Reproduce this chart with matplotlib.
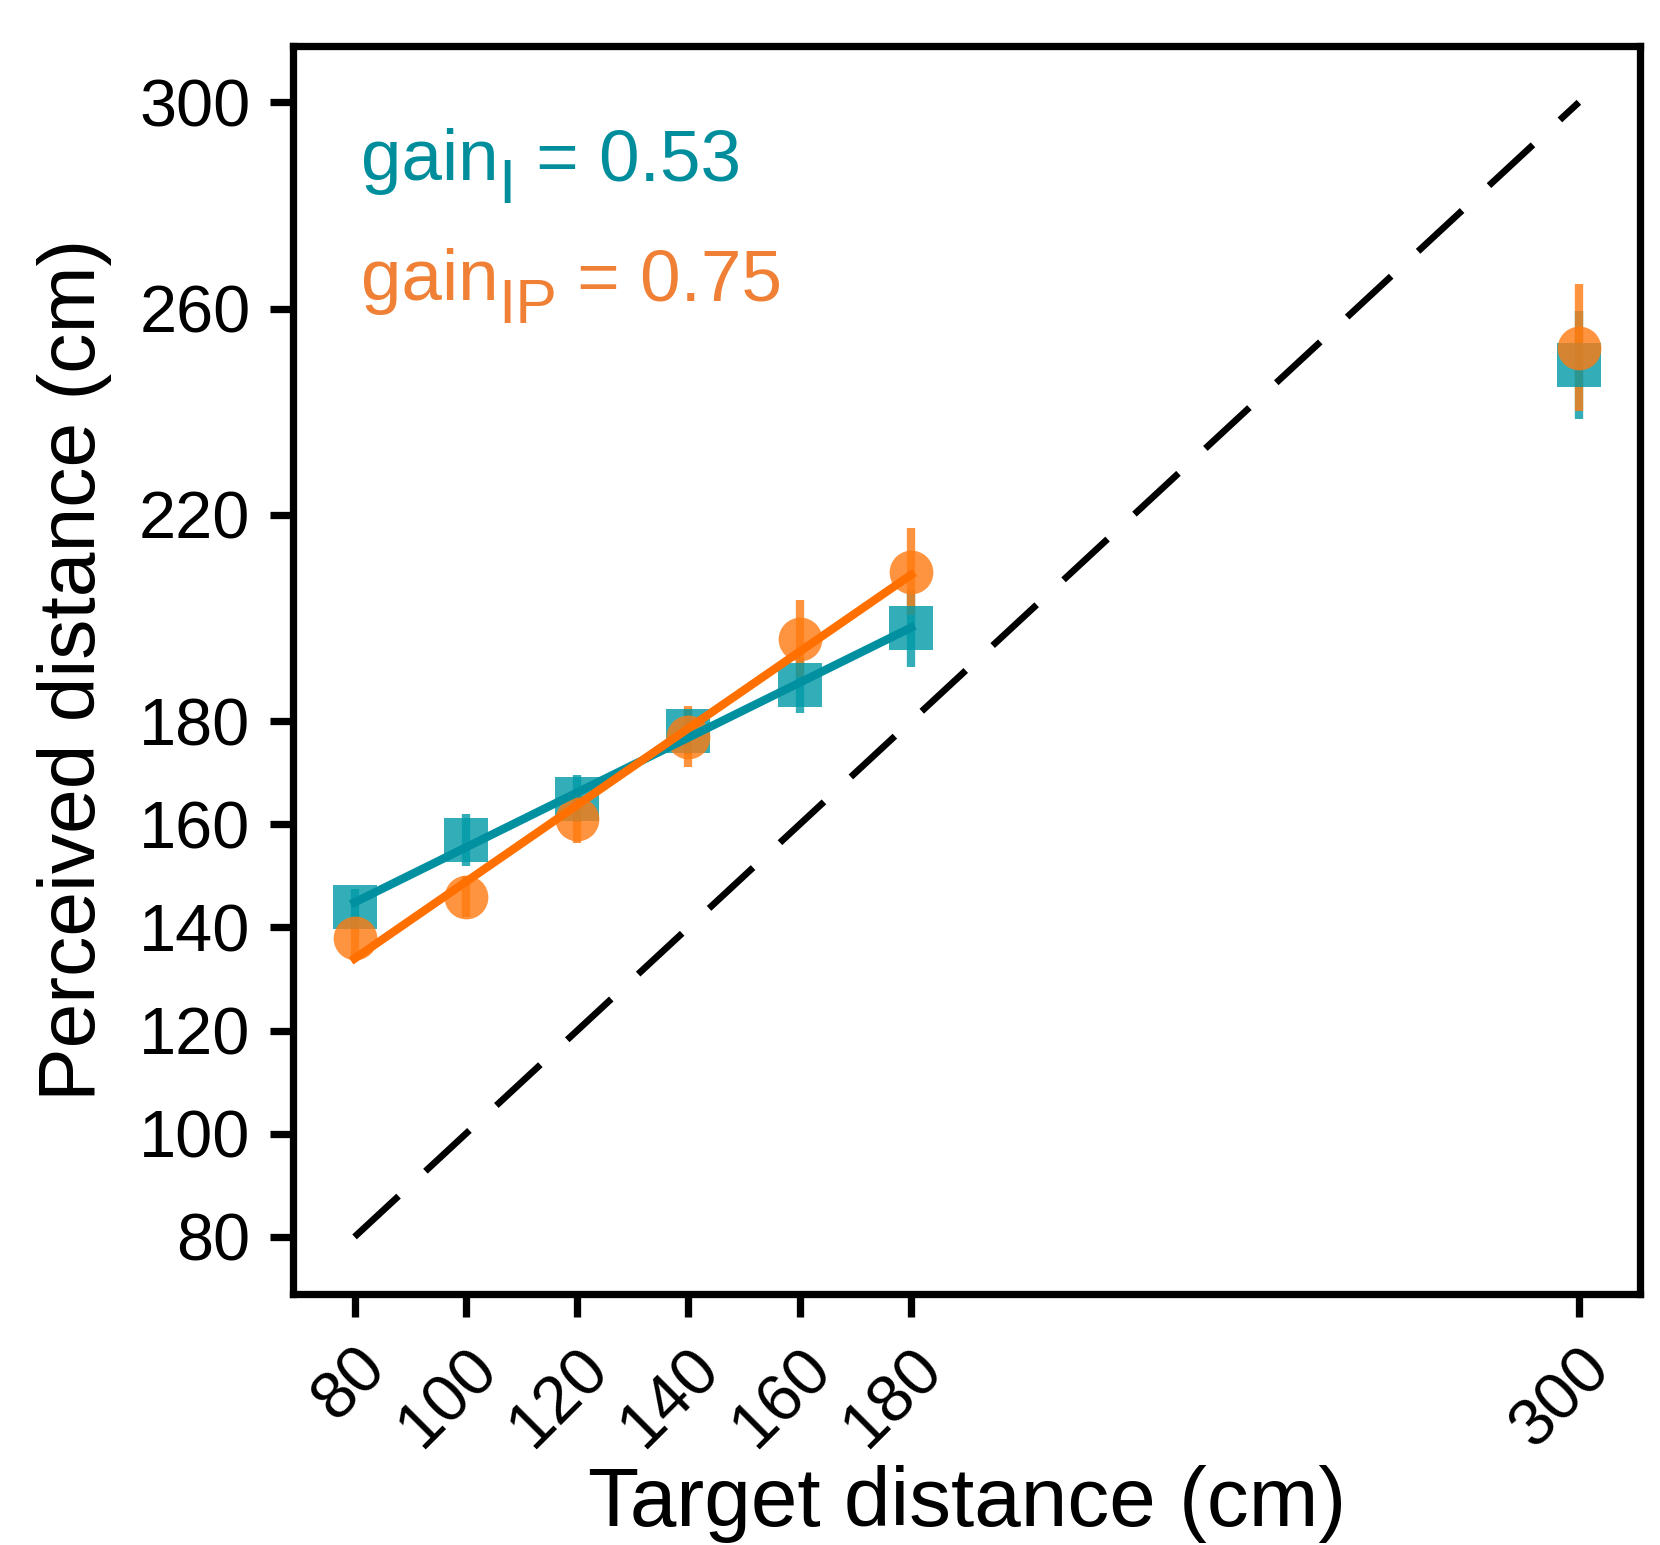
import numpy as np
import matplotlib
matplotlib.use("Agg")
import matplotlib.pyplot as plt
from matplotlib.transforms import offset_copy

plt.rcParams['font.family'] = ['Liberation Sans', 'DejaVu Sans']

target = [80, 100, 120, 140, 160, 180, 300]
perc_I = [144, 157, 165, 178, 187, 198, 249]
err_I = [3.5, 5.0, 4.5, 4.4, 5.5, 7.5, 10.5]
perc_IP = [138, 146, 161, 177, 196, 209, 252.4]
err_IP = [4.0, 4.0, 4.7, 5.9, 7.5, 8.5, 12.3]
xticks = [80, 100, 120, 140, 160, 180, 300]
yticks = [80, 100, 120, 140, 160, 180, 220, 260, 300]
gain_I_label = ('gain', 'I', ' = 0.53')
gain_IP_label = ('gain', 'IP', ' = 0.75')

teal_line = '#0090A0'
teal_mark = '#009AA8'
orange_line = '#FF7000'
orange_mark = '#FF7A10'
teal_text = '#008E9C'
orange_text = '#EF8035'

fig = plt.figure(figsize=(1660/300, 1545/300), dpi=300)
ax = fig.add_axes([0.1767, 0.1627, 0.988-0.1767, 0.9705-0.1627])

x = np.array(target, dtype=float)
ax.plot([target[0], target[-1]], [target[0], target[-1]], color='black', lw=1.6,
        dashes=(9, 5.5), zorder=1)

fit_x = x[:6]
for perc, lc in [(perc_I, teal_line), (perc_IP, orange_line)]:
    p = np.polyfit(fit_x, np.array(perc[:6]), 1)
    ax.plot(fit_x[[0, -1]], np.polyval(p, fit_x[[0, -1]]), color=lc, lw=2.0, zorder=3)

ax.errorbar(x, perc_I, yerr=err_I, fmt='s', color=teal_mark, ms=10.5, mew=0,
            elinewidth=2, alpha=0.8, capsize=0, zorder=2)
ax.errorbar(x, perc_IP, yerr=err_IP, fmt='o', color=orange_mark, ms=10.5, mew=0,
            elinewidth=2, alpha=0.8, capsize=0, zorder=2)

ax.set_xticks(xticks)
ax.set_xticklabels([str(t) for t in xticks], rotation=45, ha='right',
                   rotation_mode='anchor')
ax.set_yticks(yticks)
ax.tick_params(labelsize=16, length=5.5, width=1.75, pad=4.8)
for s in ax.spines.values():
    s.set_linewidth(1.75)
ax.set_xlabel('Target distance (cm)', fontsize=20.1, labelpad=1.5)
ax.set_ylabel('Perceived distance (cm)', fontsize=19.3, labelpad=6.5)

renderer = fig.canvas.get_renderer()
main_fs = 17.5
sub_fs = 15.0
sub_drop = 23  # pixels


def gain_text(parts, ypos, color):
    t1 = ax.text(0.05, ypos, parts[0], transform=ax.transAxes, color=color,
                 fontsize=main_fs, va='baseline', ha='left')
    w1 = t1.get_window_extent(renderer).width
    tr2 = offset_copy(ax.transAxes, fig=fig, x=w1, y=-sub_drop, units='dots')
    t2 = ax.text(0.05, ypos, parts[1], transform=tr2, color=color,
                 fontsize=sub_fs, va='baseline', ha='left')
    w2 = t2.get_window_extent(renderer).width
    tr3 = offset_copy(ax.transAxes, fig=fig, x=w1 + w2, y=0, units='dots')
    ax.text(0.05, ypos, parts[2], transform=tr3, color=color,
            fontsize=main_fs, va='baseline', ha='left')


gain_text(gain_I_label, 0.892, teal_text)
gain_text(gain_IP_label, 0.796, orange_text)

fig.savefig('out.png', dpi=300)
